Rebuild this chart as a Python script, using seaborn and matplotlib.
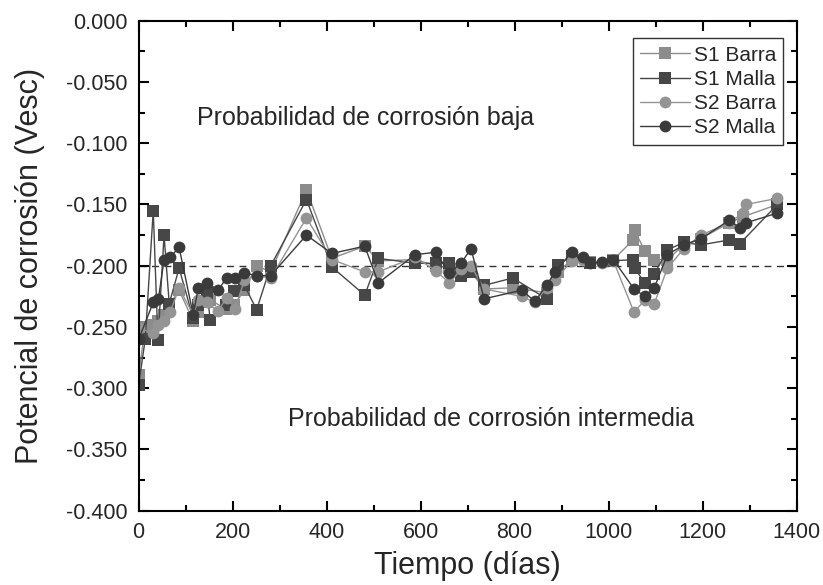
import numpy as np
import pandas as pd
import matplotlib
matplotlib.use("Agg")
import matplotlib.pyplot as plt
import seaborn as sns
from matplotlib.ticker import MultipleLocator, FormatStrFormatter

# ---- data ----
s1_barra_t = [0, 14, 31, 41, 54, 65, 86, 116, 127, 146, 152, 185, 203, 225, 251, 281,
              357, 411, 481, 510, 588, 632, 661, 686, 707, 735, 796, 868, 893, 921,
              960, 1010, 1052, 1055, 1077, 1097, 1125, 1160, 1196, 1256, 1286, 1359]
s1_barra_v = [-0.289, -0.250, -0.248, -0.245, -0.240, -0.232, -0.220, -0.245, -0.238, -0.230,
              -0.228, -0.235, -0.232, -0.220, -0.200, -0.205, -0.138, -0.194, -0.184, -0.196,
              -0.195, -0.200, -0.202, -0.203, -0.205, -0.219, -0.218, -0.222, -0.205, -0.195,
              -0.197, -0.195, -0.179, -0.171, -0.188, -0.195, -0.195, -0.183, -0.178, -0.165,
              -0.160, -0.150]

s1_malla_t = [0, 14, 31, 41, 54, 65, 86, 116, 127, 146, 152, 185, 203, 225, 251, 281,
              357, 411, 481, 510, 588, 632, 661, 686, 707, 735, 796, 868, 893, 921,
              960, 1010, 1052, 1055, 1077, 1097, 1125, 1160, 1196, 1256, 1279, 1359]
s1_malla_v = [-0.297, -0.260, -0.155, -0.261, -0.175, -0.231, -0.202, -0.243, -0.232, -0.222,
              -0.244, -0.232, -0.221, -0.216, -0.236, -0.200, -0.146, -0.201, -0.224, -0.194,
              -0.198, -0.198, -0.198, -0.208, -0.205, -0.216, -0.210, -0.227, -0.199, -0.192,
              -0.198, -0.196, -0.195, -0.202, -0.214, -0.207, -0.187, -0.181, -0.183, -0.179,
              -0.182, -0.150]

s2_barra_t = [0, 31, 42, 54, 67, 86, 116, 127, 146, 169, 187, 205, 225, 251, 281, 357,
              411, 481, 510, 588, 632, 661, 686, 707, 735, 815, 843, 868, 886, 921, 946,
              985, 1010, 1054, 1077, 1097, 1125, 1160, 1196, 1256, 1286, 1292, 1359]
s2_barra_v = [-0.251, -0.255, -0.248, -0.245, -0.238, -0.218, -0.240, -0.228, -0.230, -0.237,
              -0.226, -0.235, -0.212, -0.208, -0.210, -0.161, -0.195, -0.205, -0.205, -0.193,
              -0.204, -0.214, -0.203, -0.200, -0.219, -0.225, -0.230, -0.218, -0.212, -0.196,
              -0.195, -0.198, -0.196, -0.238, -0.228, -0.231, -0.202, -0.186, -0.175, -0.165,
              -0.157, -0.150, -0.145]

s2_malla_t = [0, 31, 42, 54, 67, 86, 116, 127, 146, 169, 187, 205, 225, 251, 281, 357,
              411, 481, 510, 588, 632, 661, 686, 707, 735, 815, 843, 868, 886, 921, 946,
              960, 985, 1010, 1054, 1077, 1097, 1125, 1160, 1196, 1256, 1279, 1292, 1359]
s2_malla_v = [-0.260, -0.230, -0.227, -0.195, -0.193, -0.185, -0.240, -0.218, -0.214, -0.220,
              -0.210, -0.210, -0.206, -0.208, -0.208, -0.175, -0.190, -0.184, -0.214, -0.191,
              -0.189, -0.206, -0.198, -0.186, -0.227, -0.220, -0.229, -0.216, -0.205, -0.189,
              -0.193, -0.198, -0.197, -0.195, -0.219, -0.225, -0.218, -0.191, -0.183, -0.178,
              -0.163, -0.169, -0.165, -0.157]

series_names = ["S1 Barra", "S1 Malla", "S2 Barra", "S2 Malla"]
threshold = -0.200

frames = []
for name, t, v in zip(series_names,
                      [s1_barra_t, s1_malla_t, s2_barra_t, s2_malla_t],
                      [s1_barra_v, s1_malla_v, s2_barra_v, s2_malla_v]):
    frames.append(pd.DataFrame({"t": t, "v": v, "serie": name}))
df = pd.concat(frames, ignore_index=True)

# ---- style ----
sns.set_style("ticks")
plt.rcParams["font.family"] = ["Liberation Sans", "DejaVu Sans"]

fig = plt.figure(figsize=(8.23, 5.85), dpi=100)
ax = fig.add_axes([0.1685, 0.127, 0.7995, 0.8375])

palette = {"S1 Barra": "#8c8c8c", "S1 Malla": "#474747",
           "S2 Barra": "#949494", "S2 Malla": "#3a3a3a"}
markers = {"S1 Barra": "s", "S1 Malla": "s", "S2 Barra": "o", "S2 Malla": "o"}

sns.lineplot(data=df, x="t", y="v", hue="serie", style="serie",
             hue_order=series_names, style_order=series_names,
             palette=palette, markers=markers, dashes=False,
             estimator=None, sort=True, linewidth=1.0,
             markersize=8.5, markeredgewidth=0, ax=ax)

ax.axhline(threshold, color="#333333", linestyle=(0, (5, 4)), linewidth=1.0, zorder=0)

ax.set_xlim(0, 1400)
ax.set_ylim(-0.4, 0.0)
ax.xaxis.set_major_locator(MultipleLocator(200))
ax.xaxis.set_minor_locator(MultipleLocator(100))
ax.yaxis.set_major_locator(MultipleLocator(0.05))
ax.yaxis.set_minor_locator(MultipleLocator(0.025))
ax.yaxis.set_major_formatter(FormatStrFormatter("%.3f"))

ax.tick_params(which="both", direction="in", top=True, right=True, labelsize=15.5,
               width=1.5, color="black", pad=8)
ax.tick_params(which="major", length=7)
ax.tick_params(which="minor", length=4)
for s in ax.spines.values():
    s.set_linewidth(1.5)
    s.set_color("black")

ax.set_xlabel("Tiempo (días)", fontsize=22, labelpad=6)
ax.set_ylabel("Potencial de corrosión (Vesc)", fontsize=22, labelpad=15)

ax.text(124, -0.079, "Probabilidad de corrosión baja", fontsize=18, va="center", ha="left")
ax.text(318, -0.325, "Probabilidad de corrosión intermedia", fontsize=18, va="center", ha="left")

leg = ax.legend(loc="upper right", fontsize=15, frameon=True, fancybox=False,
                edgecolor="black", handlelength=2.4, borderpad=0.35, labelspacing=0.25,
                handletextpad=0.15, borderaxespad=0, bbox_to_anchor=(0.9796, 0.964))
leg.get_frame().set_linewidth(1.0)

fig.savefig("out.png", dpi=100)
